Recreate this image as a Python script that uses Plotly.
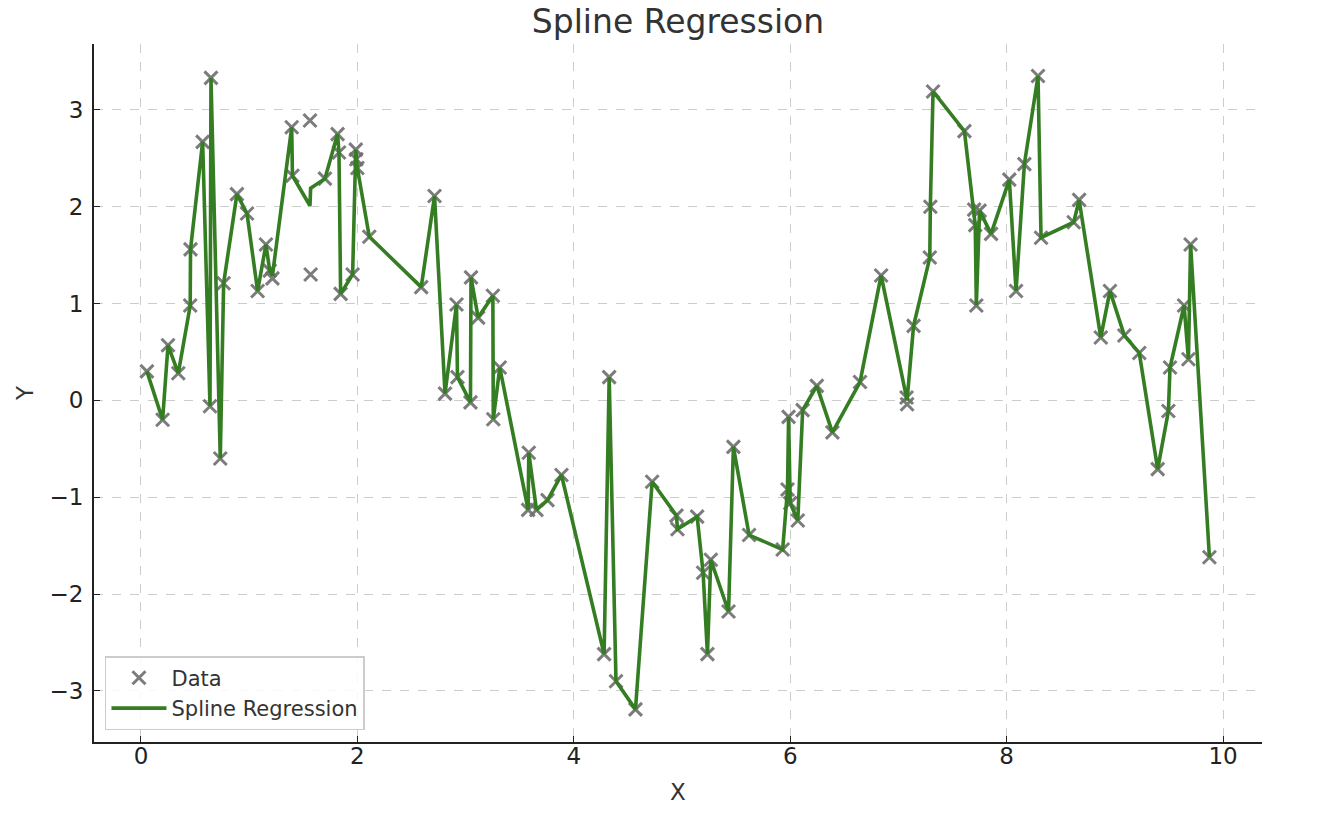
import plotly.graph_objects as go

x_data = [0.055, 0.20, 0.25, 0.345, 0.455, 0.458, 0.57, 0.638, 0.647, 0.733,
          0.764, 0.887, 0.98, 1.078, 1.155, 1.19, 1.215, 1.393, 1.40, 1.562,
          1.568, 1.70, 1.817, 1.83, 1.845, 1.956, 1.985, 1.99, 2.0, 2.11,
          2.59, 2.713, 2.81, 2.916, 2.925, 3.045, 3.05, 3.116, 3.252, 3.256,
          3.316, 3.578, 3.584, 3.655, 3.757, 3.886, 4.28, 4.327, 4.39, 4.57,
          4.724, 4.949, 4.958, 5.14, 5.195, 5.235, 5.266, 5.43, 5.475, 5.62,
          5.93, 5.975, 5.985, 6.0, 6.07, 6.115, 6.246, 6.39, 6.645, 6.84,
          7.075, 7.08, 7.14, 7.29, 7.295, 7.32, 7.61, 7.70, 7.71, 7.72,
          7.75, 7.856, 8.025, 8.087, 8.164, 8.29, 8.318, 8.62, 8.67, 8.87,
          8.955, 9.088, 9.226, 9.396, 9.495, 9.51, 9.64, 9.68, 9.70, 9.874]

y_data = [0.30, -0.20, 0.57, 0.28, 0.98, 1.56, 2.67, -0.06, 3.33, -0.60,
          1.21, 2.13, 1.93, 1.13, 1.61, 1.34, 1.26, 2.82, 2.32, 2.89,
          1.30, 2.29, 2.75, 2.56, 1.10, 1.30, 2.59, 2.49, 2.40, 1.69,
          1.17, 2.11, 0.07, 0.99, 0.24, -0.02, 1.27, 0.855, 1.08, -0.195,
          0.34, -1.13, -0.54, -1.13, -1.03, -0.77, -2.62, 0.24, -2.90, -3.19,
          -0.84, -1.19, -1.33, -1.20, -1.78, -2.62, -1.645, -2.18, -0.48, -1.39,
          -1.54, -0.92, -0.17, -1.06, -1.24, -0.10, 0.15, -0.33, 0.19, 1.29,
          0.03, -0.04, 0.77, 1.475, 2.0, 3.19, 2.78, 1.97, 1.81, 0.98,
          1.96, 1.72, 2.28, 1.13, 2.44, 3.35, 1.68, 1.84, 2.07, 0.65,
          1.13, 0.67, 0.49, -0.71, -0.11, 0.34, 0.98, 0.425, 1.61, -1.62]

y_fit = [0.30, -0.20, 0.57, 0.28, 0.98, 1.56, 2.67, -0.06, 3.33, -0.60,
         1.21, 2.13, 1.93, 1.13, 1.61, 1.34, 1.29, 2.82, 2.32, 2.01,
         2.19, 2.29, 2.75, 2.56, 1.10, 1.30, 2.59, 2.49, 2.40, 1.69,
         1.17, 2.11, 0.07, 0.99, 0.24, -0.02, 1.27, 0.855, 1.08, -0.195,
         0.34, -1.13, -0.54, -1.13, -1.03, -0.77, -2.62, 0.24, -2.90, -3.19,
         -0.84, -1.19, -1.33, -1.20, -1.78, -2.62, -1.645, -2.18, -0.48, -1.39,
         -1.54, -0.92, -0.17, -1.06, -1.24, -0.10, 0.15, -0.33, 0.19, 1.29,
         0.0, 0.0, 0.77, 1.475, 2.0, 3.19, 2.78, 1.97, 1.81, 0.98,
         1.96, 1.72, 2.28, 1.13, 2.44, 3.35, 1.68, 1.84, 2.07, 0.65,
         1.13, 0.67, 0.49, -0.71, -0.11, 0.34, 0.98, 0.425, 1.61, -1.62]

x_ticks = [0, 2, 4, 6, 8, 10]
y_ticks = [-3, -2, -1, 0, 1, 2, 3]
y_tick_text = ["\u22123", "\u22122", "\u22121", "0", "1", "2", "3"]

FONT = "DejaVu Sans"

fig = go.Figure()
fig.add_trace(go.Scatter(
    x=x_data, y=y_data, mode="markers", name="Data",
    marker=dict(symbol="x-thin", size=13, color="rgba(0,0,0,0)",
                line=dict(color="rgba(110,110,110,0.9)", width=3)),
))
fig.add_trace(go.Scatter(
    x=x_data, y=y_fit, mode="lines", name="Spline Regression",
    line=dict(color="#357d22", width=3.6),
))

fig.update_layout(
    width=1326, height=818,
    paper_bgcolor="white", plot_bgcolor="white",
    margin=dict(l=86, r=72, t=36, b=84),
    font=dict(family=FONT, color="#222222"),
    title=dict(text="Spline Regression", x=0.5, xref="paper",
               y=1 - 13 / 818, yref="container", yanchor="middle",
               xanchor="center", automargin=False,
               font=dict(size=33, family=FONT, color="#333333")),
    showlegend=True,
    legend=dict(x=0.0094, y=0.017, xanchor="left", yanchor="bottom",
                bgcolor="rgba(255,255,255,0.85)", bordercolor="#cccccc",
                borderwidth=1.5, font=dict(size=21, family=FONT, color="#333333"),
                itemwidth=55, tracegroupgap=0),
)

fig.update_xaxes(
    range=[-0.434, 10.36], tickvals=x_ticks, automargin=False,
    showgrid=True, gridcolor="#cccccc", griddash="dash", gridwidth=1,
    zeroline=False, showline=True, linecolor="#222222", linewidth=2,
    ticks="inside", ticklen=6, tickwidth=1.4, tickcolor="#222222",
    ticklabelstandoff=-8,
    tickfont=dict(size=23, family=FONT, color="#222222"),
    title=dict(text="X", font=dict(size=23, family=FONT, color="#333333"),
               standoff=16),
)
fig.update_yaxes(
    range=[-3.527, 3.68], tickvals=y_ticks, ticktext=y_tick_text,
    automargin=False,
    showgrid=True, gridcolor="#cccccc", griddash="dash", gridwidth=1,
    zeroline=False, showline=True, linecolor="#222222", linewidth=2,
    ticks="inside", ticklen=6, tickwidth=1.4, tickcolor="#222222",
    ticklabelstandoff=4,
    tickfont=dict(size=23, family=FONT, color="#222222"),
    title=dict(text="Y", font=dict(size=23, family=FONT, color="#333333"),
               standoff=9),
)

fig.write_html("out.html")
